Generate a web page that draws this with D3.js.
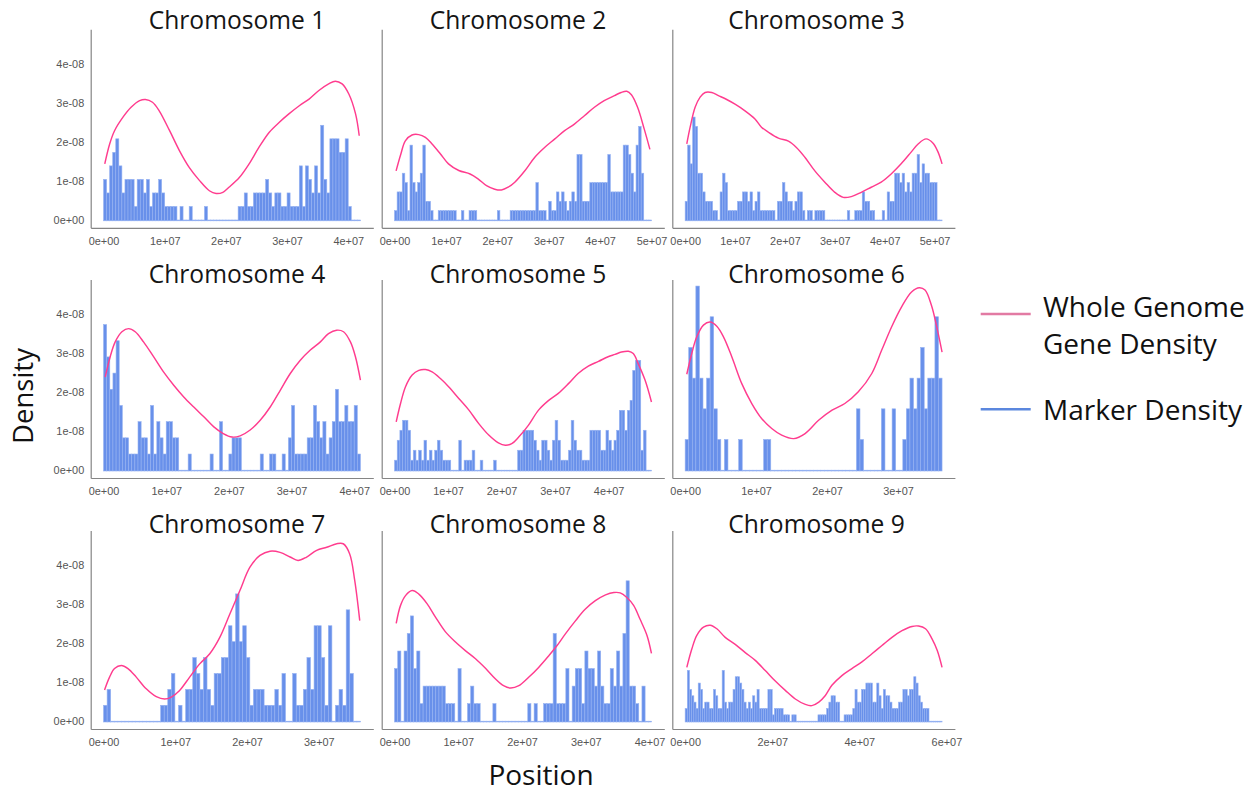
<!DOCTYPE html>
<html>
<head>
<meta charset="utf-8">
<script src="https://cdn.jsdelivr.net/npm/d3@7"></script>
<style>
  html, body { margin: 0; padding: 0; background: #ffffff; }
  svg { display: block; }
</style>
</head>
<body>
<svg id="chart" width="1260" height="793"></svg>
<script>
// ---------------------------------------------------------------
// Marker density (histogram) and whole-genome gene density (smooth
// curve) along each of nine chromosomes.
// ---------------------------------------------------------------

const chrNames = ["Chromosome 1", "Chromosome 2", "Chromosome 3",
                  "Chromosome 4", "Chromosome 5", "Chromosome 6",
                  "Chromosome 7", "Chromosome 8", "Chromosome 9"];

// chromosome lengths in Mb
const chrLengthsMb = [42, 50, 51.5, 41, 48, 36.2, 35.8, 40.3, 59];

// density contributed by one marker in a bin (units of 1e-8 per bp)
const densityPerMarker = [0.347, 0.24, 0.24, 0.415, 0.256, 0.787, 0.408, 0.45, 0.163];

// marker counts per equal-width bin, from the start of each chromosome
const chr1Markers = [3,2,4,5,6,4,2,3,3,3,1,3,3,2,3,1,2,2,3,2,1,1,1,1,0,1,0,0,1,0,0,0,0,1,
  0,0,0,0,0,0,0,0,0,0,1,1,2,1,1,2,2,2,2,3,2,1,2,2,1,1,2,1,1,1,4,1,4,3,2,4,2,7,3,2,6,6,6,5,5,6,1,0,0,0];
const chr2Markers = [1,3,3,5,4,1,8,4,3,4,5,8,2,2,1,0,0,1,1,1,1,1,1,1,0,0,1,0,0,1,1,1,
  0,0,0,0,0,0,0,0,1,0,0,0,0,1,1,1,1,1,1,1,1,1,1,4,1,1,1,0,2,1,1,3,2,3,2,1,2,3,2,7,7,2,2,2,
  4,4,4,4,4,4,4,7,3,3,3,3,3,8,8,7,5,3,8,10,5,0,0,0];
const chr3Markers = [2,8,6,11,10,5,5,3,2,2,2,1,1,0,3,5,4,1,1,1,1,2,2,3,3,2,3,1,2,3,1,1,1,1,1,1,
  0,2,2,4,3,2,2,1,2,3,3,1,0,1,1,0,1,1,1,1,0,0,0,0,0,0,0,0,0,1,0,0,1,1,1,3,2,2,1,1,0,0,0,1,0,
  3,2,2,5,5,4,5,3,4,3,5,5,7,4,6,5,5,4,4,4,0,0];
const chr4Markers = [9,7,5,6,8,4,2,2,1,1,1,3,2,2,1,4,1,3,2,1,3,3,2,2,0,0,0,1,0,0,0,0,0,0,1,0,0,3,
  0,0,1,2,2,2,0,0,0,0,0,0,1,0,0,1,1,0,0,1,0,2,4,1,1,1,1,2,2,4,3,2,3,1,2,3,5,3,3,4,3,3,4,1];
const chr5Markers = [1,3,4,5,5,4,1,2,1,2,1,3,1,2,1,2,3,2,1,1,1,0,0,0,3,0,1,1,1,2,0,0,1,0,0,0,0,1,
  0,0,0,0,0,0,0,0,2,2,4,4,4,4,3,2,1,3,3,2,1,3,5,3,1,1,1,2,5,3,2,2,1,1,1,4,4,4,4,2,2,4,3,2,3,4,
  6,6,4,6,7,10,11,11,2,4,0,0];
const chr6Markers = [1,4,3,6,3,2,3,5,2,1,0,1,0,0,0,1,0,0,0,0,0,0,1,1,
  0,0,0,0,0,0,0,0,0,0,0,0,0,0,0,0,0,0,0,0,0,0,0,0,2,1,0,0,0,0,0,2,0,0,2,0,0,1,2,3,2,3,4,2,3,3,5,3];
const chr7Markers = [1,2,0,0,0,0,0,0,0,0,0,0,0,0,0,0,1,1,2,3,0,1,0,2,2,4,3,2,4,2,1,3,3,4,4,6,5,8,5,6,
  4,1,2,2,2,1,1,1,2,1,3,0,0,3,1,1,2,4,2,6,6,4,1,6,0,1,2,1,7,3,0,0];
const chr8Markers = [3,4,0,4,5,6,3,4,1,2,2,2,2,2,2,2,1,1,1,0,3,0,0,1,2,1,1,0,0,0,0,1,
  0,0,0,0,0,0,0,0,0,0,1,0,1,0,0,1,1,1,5,1,1,1,3,0,2,3,3,1,4,3,3,2,4,2,1,1,3,2,4,2,5,8,2,2,1,0,2,0,0];
const chr9Markers = [2,8,5,4,3,2,6,5,2,3,3,2,2,5,4,2,2,8,3,2,3,3,5,7,7,6,5,3,2,3,2,4,3,5,2,2,2,2,5,5,
  1,2,2,2,2,1,1,1,0,1,1,0,0,0,0,0,0,0,0,0,0,1,1,1,1,2,3,4,4,3,3,0,0,1,1,1,1,2,5,3,3,5,5,6,6,6,
  3,3,6,4,2,5,4,4,3,2,2,2,3,3,5,5,4,5,5,7,6,4,3,2,2,2,0,0,0,0,0,0];

// whole-genome gene density: [position (Mb), density (1e-8 per bp)]
const chr1Genes = [[0.2,1.44],[1.0,1.95],[1.8,2.29],[3.15,2.63],[4.5,2.89],[5.9,3.06],[6.85,3.09],
  [8.0,3.02],[9.1,2.80],[10.8,2.29],[12.4,1.78],[14.0,1.35],[15.7,1.01],[17.3,0.75],[18.4,0.68],
  [19.5,0.71],[20.5,0.84],[22.2,1.09],[23.8,1.44],[25.4,1.86],[27.1,2.25],[28.7,2.50],[30.3,2.72],
  [32.0,2.93],[33.6,3.10],[35.2,3.32],[36.8,3.49],[37.9,3.56],[39.0,3.49],[40.1,3.23],[41.2,2.72],[41.8,2.16]];
const chr2Genes = [[0.3,1.26],[1.2,1.68],[2.1,2.03],[3.4,2.18],[4.7,2.19],[6.0,2.12],[7.3,1.95],
  [8.9,1.70],[10.5,1.44],[12.5,1.27],[14.7,1.18],[16.3,1.05],[17.9,0.88],[19.5,0.79],[20.8,0.77],
  [22.1,0.84],[23.4,0.97],[25.4,1.27],[27.3,1.61],[29.2,1.86],[31.2,2.08],[33.1,2.29],[35.0,2.46],
  [37.0,2.68],[38.9,2.89],[40.8,3.06],[42.8,3.19],[44.1,3.27],[45.2,3.30],[46.1,3.21],[47.3,2.89],
  [48.6,2.33],[49.7,1.81]];
const chr3Genes = [[0.33,1.95],[1.0,2.38],[2.0,2.89],[3.0,3.15],[4.0,3.27],[5.33,3.27],[6.67,3.19],
  [8.33,3.09],[10.0,2.97],[12.0,2.80],[14.0,2.59],[15.3,2.38],[16.7,2.25],[18.7,2.10],[20.7,2.02],
  [22.3,1.86],[24.0,1.61],[26.0,1.26],[28.0,0.97],[30.0,0.71],[31.7,0.58],[33.3,0.60],[35.3,0.71],
  [37.3,0.84],[39.3,0.97],[41.3,1.18],[43.3,1.44],[45.3,1.74],[46.7,1.95],[48.3,2.08],[49.7,1.97],
  [50.7,1.74],[51.5,1.44]];
const chr4Genes = [[0.27,2.39],[1.06,2.91],[1.86,3.29],[2.93,3.55],[3.99,3.63],[5.05,3.55],[6.38,3.29],
  [7.98,2.91],[9.57,2.52],[11.2,2.18],[12.8,1.88],[14.4,1.62],[16.0,1.37],[17.6,1.11],[19.1,0.94],
  [20.5,0.85],[21.8,0.88],[23.4,1.03],[25.0,1.28],[26.6,1.62],[28.2,2.05],[29.8,2.48],[31.4,2.82],
  [33.0,3.08],[34.6,3.29],[35.9,3.50],[37.2,3.59],[38.3,3.55],[39.4,3.29],[40.2,2.91],[41.0,2.31]];
const chr5Genes = [[0.31,1.24],[1.12,1.71],[2.05,2.14],[3.29,2.44],[4.53,2.56],[5.78,2.58],[7.02,2.52],
  [8.57,2.35],[10.1,2.14],[12.0,1.84],[13.9,1.54],[15.7,1.20],[17.6,0.90],[19.4,0.70],[20.7,0.64],
  [21.9,0.68],[23.2,0.85],[25.0,1.15],[26.9,1.54],[28.8,1.79],[30.6,1.97],[32.5,2.22],[34.3,2.48],
  [36.2,2.67],[38.1,2.79],[39.9,2.91],[41.2,2.97],[42.4,3.03],[43.7,3.05],[44.6,2.99],[45.5,2.74],
  [46.8,2.31],[48.0,1.75]];
const chr6Genes = [[0.23,2.46],[0.94,3.00],[1.64,3.42],[2.58,3.72],[3.52,3.80],[4.46,3.69],[5.40,3.42],
  [6.57,2.91],[7.98,2.22],[9.39,1.71],[10.8,1.32],[12.2,1.07],[13.6,0.90],[15.3,0.81],[16.9,0.94],
  [18.8,1.28],[20.7,1.54],[22.5,1.71],[24.4,2.01],[26.3,2.48],[27.7,3.08],[29.1,3.68],[30.5,4.19],
  [31.9,4.57],[33.0,4.68],[33.8,4.62],[34.7,4.23],[35.4,3.72],[36.2,3.03]];
const chr7Genes = [[0.14,0.80],[0.84,1.13],[1.53,1.35],[2.47,1.43],[3.40,1.35],[4.56,1.13],[5.95,0.83],
  [7.35,0.63],[8.51,0.57],[9.44,0.62],[10.6,0.79],[12.0,1.13],[13.4,1.47],[14.8,1.73],[16.2,2.15],
  [17.6,2.75],[19.0,3.35],[20.4,3.95],[21.8,4.25],[23.2,4.36],[24.6,4.33],[26.0,4.21],[27.1,4.12],
  [28.3,4.21],[29.7,4.38],[31.1,4.46],[32.5,4.55],[33.4,4.55],[34.3,4.29],[35.0,3.61],[35.7,2.58]];
const chr8Genes = [[0.26,2.51],[0.94,2.97],[1.72,3.22],[2.77,3.35],[3.81,3.26],[5.12,3.01],[6.42,2.67],
  [7.99,2.29],[9.56,2.03],[11.1,1.81],[12.7,1.60],[14.3,1.35],[15.8,1.09],[17.1,0.91],[18.2,0.85],
  [19.5,0.91],[21.0,1.12],[22.6,1.38],[24.2,1.68],[25.5,1.94],[26.8,2.24],[28.4,2.58],[29.9,2.87],
  [31.5,3.09],[33.1,3.24],[34.4,3.30],[35.4,3.29],[36.4,3.18],[37.5,2.97],[38.5,2.62],[39.6,2.20],[40.3,1.74]];
const chr9Genes = [[0.38,1.38],[1.53,1.85],[2.68,2.20],[4.21,2.41],[5.75,2.46],[7.28,2.37],[9.20,2.15],
  [11.5,1.97],[13.8,1.76],[16.1,1.56],[18.4,1.30],[20.7,1.03],[23.0,0.79],[25.3,0.57],[27.6,0.43],
  [29.1,0.40],[30.7,0.49],[32.2,0.66],[33.7,0.92],[36.0,1.17],[38.3,1.35],[40.6,1.52],[42.9,1.73],
  [45.2,1.94],[47.5,2.15],[49.8,2.32],[52.1,2.43],[53.6,2.44],[55.2,2.37],[56.7,2.11],[57.9,1.81],[59.0,1.38]];

// axis ticks
const xTicksMb = [[0,10,20,30,40],[0,10,20,30,40,50],[0,10,20,30,40,50],
                  [0,10,20,30,40],[0,10,20,30,40],[0,10,20,30],
                  [0,10,20,30],[0,10,20,30,40],[0,20,40,60]];
const yTicks = [0, 1e-8, 2e-8, 3e-8, 4e-8];

const legendLabels = [["Whole Genome", "Gene Density"], ["Marker Density"]];

// ---------------------------------------------------------------
const markerSeries = [chr1Markers, chr2Markers, chr3Markers, chr4Markers, chr5Markers,
                      chr6Markers, chr7Markers, chr8Markers, chr9Markers];
const geneSeries = [chr1Genes, chr2Genes, chr3Genes, chr4Genes, chr5Genes,
                    chr6Genes, chr7Genes, chr8Genes, chr9Genes];

const chromosomes = chrNames.map((name, i) => ({
  name,
  length: chrLengthsMb[i] * 1e6,
  counts: markerSeries[i],
  unit: densityPerMarker[i] * 1e-8,
  genes: geneSeries[i].map(([p, v]) => ({ pos: p * 1e6, dens: v * 1e-8 })),
  ticks: xTicksMb[i].map(t => t * 1e6)
}));

// layout
const panelW = 282.6, panelH = 198.5;
const colLeft = [90.7, 381.7, 672.3];
const rowTop = [29.3, 279.5, 530.5];
const titleCenter = [237, 518, 816.5];
const titleBaseline = [29, 283.3, 533.3];

const geneColor = "#ff3c8e";
const barFill = "#6890ea";
const barStroke = "#96b2f2";
const axisColor = "#858585";
const tickColor = "#555555";

const svg = d3.select("#chart");

// 0e+00 / 1e+07 / 4e-08 style labels
function sci(v) {
  if (v === 0) return "0e+00";
  const e = Math.floor(Math.log10(Math.abs(v)) + 1e-9);
  const m = Math.round(v / Math.pow(10, e));
  return m + "e" + (e < 0 ? "-" : "+") + String(Math.abs(e)).padStart(2, "0");
}

chromosomes.forEach((chr, i) => {
  const col = i % 3, row = Math.floor(i / 3);
  const left = colLeft[col], top = rowTop[row], bottom = top + panelH;

  const x = d3.scaleLinear()
    .domain([-0.05 * chr.length, 1.05 * chr.length])
    .range([left, left + panelW]);
  const y = d3.scaleLinear()
    .domain([-0.2e-8, 4.89e-8])
    .range([bottom, top]);

  const g = svg.append("g").attr("class", "panel");

  // histogram of marker positions
  const binW = chr.length / chr.counts.length;
  const bins = chr.counts.map((c, k) => ({ x0: k * binW, x1: (k + 1) * binW, d: c * chr.unit }));
  g.append("g").selectAll("rect")
    .data(bins)
    .join("rect")
    .attr("x", d => x(d.x0))
    .attr("width", d => x(d.x1) - x(d.x0))
    .attr("y", d => y(d.d))
    .attr("height", d => y(0) - y(d.d) + 0.8)
    .attr("fill", barFill)
    .attr("stroke", barStroke)
    .attr("stroke-width", 0.6);

  // gene density curve
  const line = d3.line()
    .x(d => x(d.pos))
    .y(d => y(d.dens))
    .curve(d3.curveCatmullRom.alpha(0.5));
  g.append("path")
    .datum(chr.genes)
    .attr("d", line)
    .attr("fill", "none")
    .attr("stroke", geneColor)
    .attr("stroke-width", 1.45);

  // axes
  const xAxis = d3.axisBottom(x).tickValues(chr.ticks).tickFormat(sci)
    .tickSize(0).tickSizeOuter(0).tickPadding(9);
  const gx = g.append("g").attr("transform", `translate(0,${bottom})`).call(xAxis);

  const yAxis = d3.axisLeft(y).tickValues(col === 0 ? yTicks : []).tickFormat(sci)
    .tickSize(0).tickSizeOuter(0).tickPadding(6.5);
  const gy = g.append("g").attr("transform", `translate(${left},0)`).call(yAxis);

  [gx, gy].forEach(a => {
    a.select(".domain").attr("stroke", axisColor).attr("stroke-width", 1.2);
    a.selectAll("text")
      .attr("fill", tickColor)
      .attr("font-family", "'Liberation Sans', Arial, sans-serif")
      .attr("font-size", 10.9);
  });

  // panel title
  svg.append("text")
    .attr("x", titleCenter[col])
    .attr("y", titleBaseline[row])
    .attr("text-anchor", "middle")
    .attr("font-family", "'Open Sans', 'Noto Sans', sans-serif")
    .attr("font-size", 24.6)
    .attr("fill", "#151515")
    .text(chr.name);
});

// axis titles
svg.append("text")
  .attr("transform", "translate(33,396) rotate(-90)")
  .attr("text-anchor", "middle")
  .attr("font-family", "'Open Sans', 'Noto Sans', sans-serif")
  .attr("font-size", 27.5)
  .attr("fill", "#111")
  .text("Density");

svg.append("text")
  .attr("x", 541)
  .attr("y", 785)
  .attr("text-anchor", "middle")
  .attr("font-family", "'Open Sans', 'Noto Sans', sans-serif")
  .attr("font-size", 28)
  .attr("fill", "#111")
  .text("Position");

// legend
const legendItems = [
  { color: "#e27aa3", lineY: 314, lines: legendLabels[0], baseline: 317 },
  { color: "#5b87de", lineY: 409.3, lines: legendLabels[1], baseline: 420 }
];
const lg = svg.append("g").attr("class", "legend");
legendItems.forEach(item => {
  lg.append("line")
    .attr("x1", 980.7).attr("x2", 1030.7)
    .attr("y1", item.lineY).attr("y2", item.lineY)
    .attr("stroke", item.color)
    .attr("stroke-width", 2.6);
  item.lines.forEach((t, k) => {
    lg.append("text")
      .attr("x", 1043)
      .attr("y", item.baseline + k * 37)
      .attr("font-family", "'Open Sans', 'Noto Sans', sans-serif")
      .attr("font-size", 28)
      .attr("fill", "#111")
      .text(t);
  });
});
</script>
</body>
</html>
